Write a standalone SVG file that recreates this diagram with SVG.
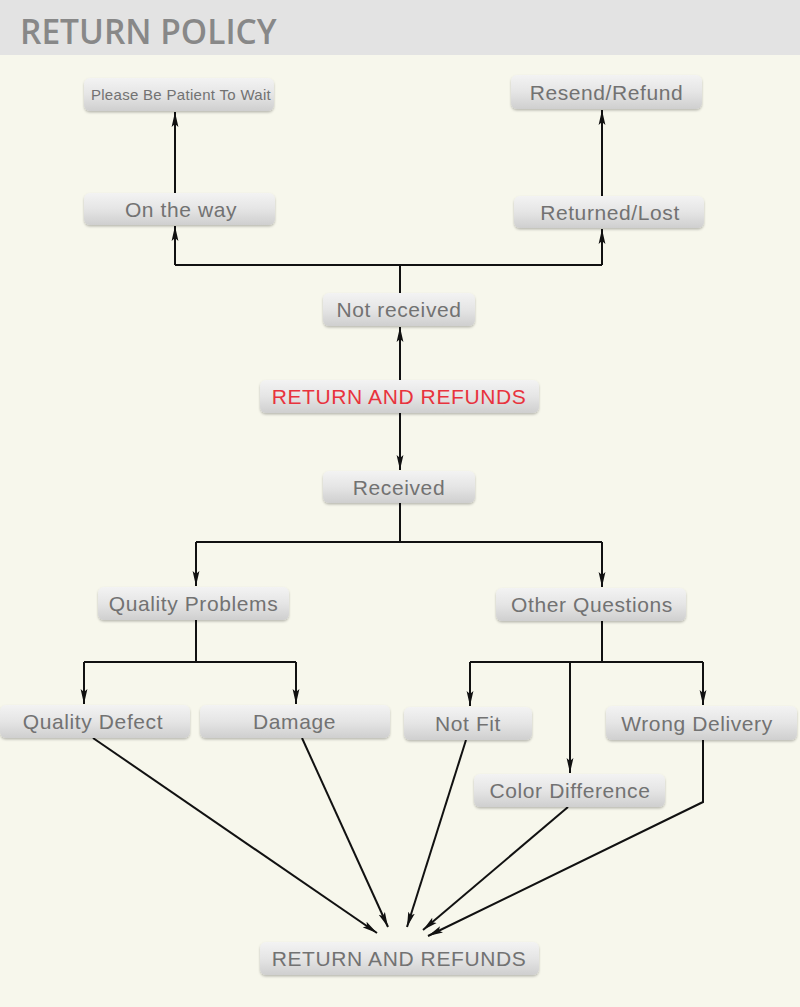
<svg xmlns="http://www.w3.org/2000/svg" width="800" height="1007" viewBox="0 0 800 1007">
<defs>
<linearGradient id="g" x1="0" y1="0" x2="0" y2="1">
<stop offset="0" stop-color="#f3f3f3"/>
<stop offset="0.5" stop-color="#e5e5e5"/>
<stop offset="1" stop-color="#cfcfcf"/>
</linearGradient>
<filter id="sh" x="-10%" y="-20%" width="120%" height="160%">
<feDropShadow dx="0" dy="1.5" stdDeviation="1" flood-color="#000" flood-opacity="0.25"/>
</filter>
<marker id="a" markerUnits="userSpaceOnUse" markerWidth="16" markerHeight="8" refX="15" refY="4" orient="auto">
<path d="M0,0.6 L15,4 L0,7.4 L3,4 Z" fill="#111"/>
</marker>
<style>
.n rect{fill:url(#g);filter:url(#sh)}
.n text{font-family:"Liberation Sans",Arial,sans-serif;font-size:21px;fill:#727272;text-anchor:middle;letter-spacing:0.6px}
.c path{fill:none;stroke:#111;stroke-width:2}
.c path.ar{marker-end:url(#a)}
</style>
</defs>
<rect width="800" height="1007" fill="#f7f7ec"/>
<rect width="800" height="55" fill="#e3e3e3"/>
<text x="20" y="44" font-family="'Open Sans',sans-serif" font-weight="600" font-size="33.5" fill="#888">RETURN POLICY</text>

<g class="c">
<path d="M400,293 V265 M175,265 H602"/>
<path class="ar" d="M175,265 V226"/>
<path class="ar" d="M602,265 V229"/>
<path class="ar" d="M175,193 V112"/>
<path class="ar" d="M602,196 V110"/>
<path class="ar" d="M400,380 V327"/>
<path class="ar" d="M400,413 V470"/>
<path d="M400,503 V542 M196,542 H602"/>
<path class="ar" d="M196,542 V586"/>
<path class="ar" d="M602,542 V587"/>
<path d="M196,620 V662 M84,662 H296"/>
<path class="ar" d="M84,662 V704"/>
<path class="ar" d="M296,662 V704"/>
<path d="M602,621 V662 M470,662 H703"/>
<path class="ar" d="M470,662 V706"/>
<path class="ar" d="M703,662 V705"/>
<path class="ar" d="M570,662 V773"/>
<path class="ar" d="M93,738 L377,933"/>
<path class="ar" d="M302,738 L388,927"/>
<path class="ar" d="M466,740 L407,927"/>
<path class="ar" d="M568,807 L423,930"/>
<path class="ar" d="M703,740 V802 L428,936"/>
</g>

<g id="n-patient" class="n"><rect x="84" y="78" width="190" height="33" rx="6"/><text x="181" y="100" style="font-size:15px;letter-spacing:0.3px">Please Be Patient To Wait</text></g>
<g id="n-resend" class="n"><rect x="511" y="75" width="191" height="34" rx="6"/><text x="606.5" y="99.5">Resend/Refund</text></g>
<g id="n-ontheway" class="n"><rect x="84" y="193" width="191" height="32" rx="6"/><text x="181" y="216.5">On the way</text></g>
<g id="n-returned" class="n"><rect x="514" y="196" width="190" height="32" rx="6"/><text x="610" y="219.5">Returned/Lost</text></g>
<g id="n-notreceived" class="n"><rect x="323" y="293" width="152" height="33" rx="6"/><text x="399" y="317">Not received</text></g>
<g id="n-rar" class="n"><rect x="260" y="380" width="279" height="33" rx="6"/><text x="399" y="404" style="fill:#e8333d">RETURN AND REFUNDS</text></g>
<g id="n-received" class="n"><rect x="323" y="471" width="152" height="32" rx="6"/><text x="399" y="494.5">Received</text></g>
<g id="n-quality" class="n"><rect x="98" y="587" width="191" height="33" rx="6"/><text x="193.5" y="611">Quality Problems</text></g>
<g id="n-other" class="n"><rect x="496" y="588" width="190" height="33" rx="6"/><text x="592" y="612">Other Questions</text></g>
<g id="n-defect" class="n"><rect x="0" y="705" width="190" height="33" rx="6"/><text x="93" y="729">Quality Defect</text></g>
<g id="n-damage" class="n"><rect x="200" y="705" width="190" height="33" rx="6"/><text x="294.5" y="729">Damage</text></g>
<g id="n-notfit" class="n"><rect x="404" y="707" width="128" height="33" rx="6"/><text x="468" y="731">Not Fit</text></g>
<g id="n-wrong" class="n"><rect x="606" y="706" width="191" height="34" rx="6"/><text x="697" y="730.5">Wrong Delivery</text></g>
<g id="n-color" class="n"><rect x="474" y="774" width="191" height="33" rx="6"/><text x="570" y="798">Color Difference</text></g>
<g id="n-rar2" class="n"><rect x="260" y="942" width="279" height="33" rx="6"/><text x="399" y="966">RETURN AND REFUNDS</text></g>
</svg>
